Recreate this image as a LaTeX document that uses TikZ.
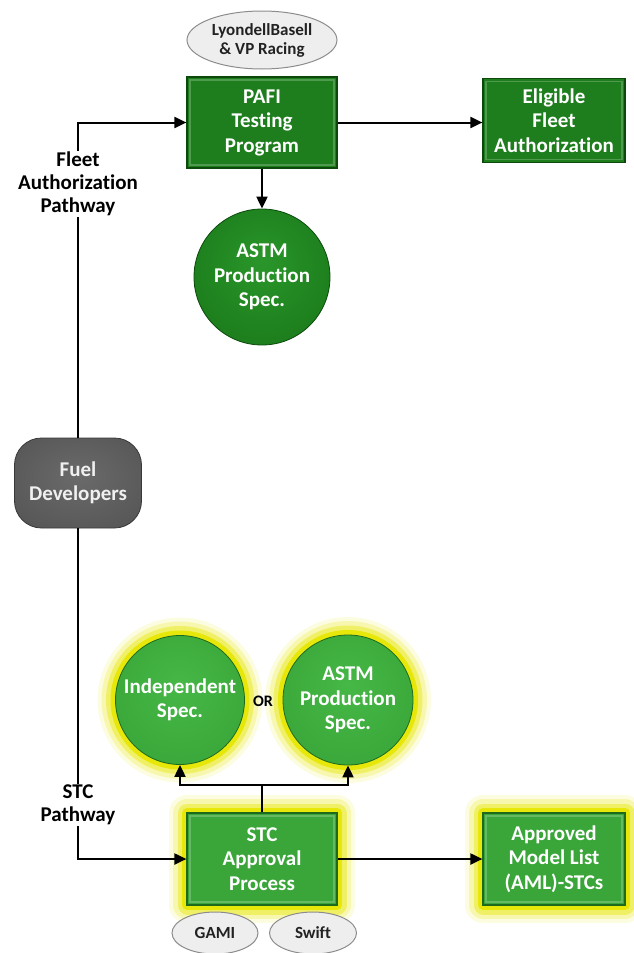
\documentclass[tikz,border=0pt]{standalone}
\usepackage{fontspec}
\setmainfont{Carlito}[Ligatures={NoCommon}]
\usetikzlibrary{arrows.meta,shapes.geometric}

\definecolor{boxdark}{HTML}{1E7E1E}
\definecolor{boxdarkedge}{HTML}{0C4A0C}
\definecolor{boxlight}{HTML}{3AA63A}
\definecolor{boxlightedge}{HTML}{1D6A1D}
\definecolor{glowy}{HTML}{E6E600}
\definecolor{ovalfill}{HTML}{EEEEEE}
\definecolor{ovaledge}{HTML}{8C8C8C}
\definecolor{ovaltext}{HTML}{222222}
% ball colours
\definecolor{dbA}{HTML}{2A962A}
\definecolor{dbB}{HTML}{1C7E1C}
\definecolor{dbC}{HTML}{146614}
\definecolor{dbD}{HTML}{0C4C0C}
\definecolor{lbA}{HTML}{46B846}
\definecolor{lbB}{HTML}{3AA83A}
\definecolor{lbC}{HTML}{2E902E}
\definecolor{lbD}{HTML}{1C661C}
\definecolor{gyA}{HTML}{6A6A6A}
\definecolor{gyB}{HTML}{585858}
\definecolor{gyC}{HTML}{383838}

\pgfdeclareradialshading{darkball}{\pgfpoint{0bp}{6bp}}{color(0bp)=(dbA); color(28bp)=(dbB); color(44bp)=(dbC); color(52bp)=(dbD)}
\pgfdeclareradialshading{lightball}{\pgfpoint{0bp}{6bp}}{color(0bp)=(lbA); color(28bp)=(lbB); color(44bp)=(lbC); color(52bp)=(lbD)}
\pgfdeclareradialshading{greyblob}{\pgfpoint{0bp}{4bp}}{color(0bp)=(gyA); color(30bp)=(gyB); color(48bp)=(gyC); color(54bp)=(gyC)}

\tikzset{
  glow/.style={
    preaction={draw=glowy, line width=36pt, draw opacity=0.12, line join=round},
    preaction={draw=glowy, line width=28pt, draw opacity=0.22, line join=round},
    preaction={draw=glowy, line width=19pt, draw opacity=0.42, line join=round},
    preaction={draw=glowy, line width=10pt, draw opacity=0.9, line join=round}},
  bevel/.style={path picture={
    \draw[line width=1.6pt, draw=white, draw opacity=0.22]
      ([xshift=3pt,yshift=-3pt]path picture bounding box.north west) rectangle
      ([xshift=-3pt,yshift=3pt]path picture bounding box.south east);}},
  boxtext/.style={text=white, font=\bfseries\fontsize{21}{24.5}\selectfont, align=center, inner sep=0pt},
  darkbox/.style={rectangle, boxtext, bevel, fill=boxdark, draw=boxdarkedge, line width=1.2pt},
  lightbox/.style={rectangle, boxtext, bevel, fill=boxlight, draw=boxlightedge, line width=1.2pt, glow},
  darkcirc/.style={circle, boxtext, shading=darkball, draw=boxdarkedge, line width=0.8pt},
  lightcirc/.style={circle, boxtext, shading=lightball, draw=boxlightedge, line width=0.8pt, glow},
  oval/.style={ellipse, fill=ovalfill, draw=ovaledge, line width=1pt, text=ovaltext,
    font=\bfseries\fontsize{17}{20}\selectfont, align=center, inner sep=0pt},
  pathlabel/.style={fill=white, text=black, font=\bfseries\fontsize{21}{23}\selectfont, align=center, inner sep=1pt},
  conn/.style={line width=2pt, -{Triangle[length=12pt,width=11pt]}},
  plainline/.style={line width=2pt}
}

\begin{document}
\begin{tikzpicture}[x=1pt, y=-1pt]
\useasboundingbox (0,0) rectangle (633,953);

% upper pathway
\node[oval, minimum width=150pt, minimum height=58pt] (lyon) at (262,40) {LyondellBasell\\[-1pt]\& VP Racing};
\node[darkbox, minimum width=150pt, minimum height=91pt] (pafi) at (262,122.5) {PAFI\\Testing\\Program};
\node[darkbox, minimum width=142pt, minimum height=84pt] (elig) at (554,120.5) {Eligible\\Fleet\\Authorization};
\node[darkcirc, minimum size=136pt] (astmtop) at (262,277) {ASTM\\Production\\Spec.};

% origin
\node[rectangle, rounded corners=27pt, shading=greyblob, draw=gyC, line width=0.8pt,
      minimum width=127pt, minimum height=90pt, text=white!94!black,
      font=\bfseries\fontsize{21}{24.5}\selectfont, align=center, inner sep=0pt]
      (fuel) at (78,483) {Fuel\\Developers};

% lower pathway
\node[lightcirc, minimum size=129pt] (indep) at (180,700) {Independent\\Spec.};
\node[lightcirc, minimum size=130pt] (astmlow) at (348,700) {ASTM\\Production\\Spec.};
\node[font=\bfseries\fontsize{16}{18}\selectfont, text=black] (orlbl) at (263,701) {OR};
\node[lightbox, minimum width=150pt, minimum height=92pt] (stc) at (262,859) {STC\\Approval\\Process};
\node[lightbox, minimum width=142pt, minimum height=92pt] (aml) at (554,859) {Approved\\Model List\\(AML)-STCs};
\node[oval, minimum width=86pt, minimum height=42pt] (gami) at (215,933) {GAMI};
\node[oval, minimum width=87pt, minimum height=42pt] (swift) at (313,933) {Swift};

% connectors
\draw[conn] (fuel.north) |- (pafi.west);
\draw[conn] (pafi.east) -- (pafi.east -| elig.west);
\draw[conn] (pafi.south) -- (astmtop.north);
\draw[conn] (fuel.south) |- (stc.west);
\draw[conn] (stc.east) -- (aml.west);
\coordinate (split) at (262,785);
\draw[plainline] (stc.north) -- (split);
\draw[conn] (split) -| (indep.south);
\draw[conn] (split) -| (astmlow.south);

% pathway labels
\node[pathlabel] (fleetlbl) at (78,184) {Fleet\\Authorization\\Pathway};
\node[pathlabel] (stclbl) at (78,805) {STC\\Pathway};
\end{tikzpicture}
\end{document}
